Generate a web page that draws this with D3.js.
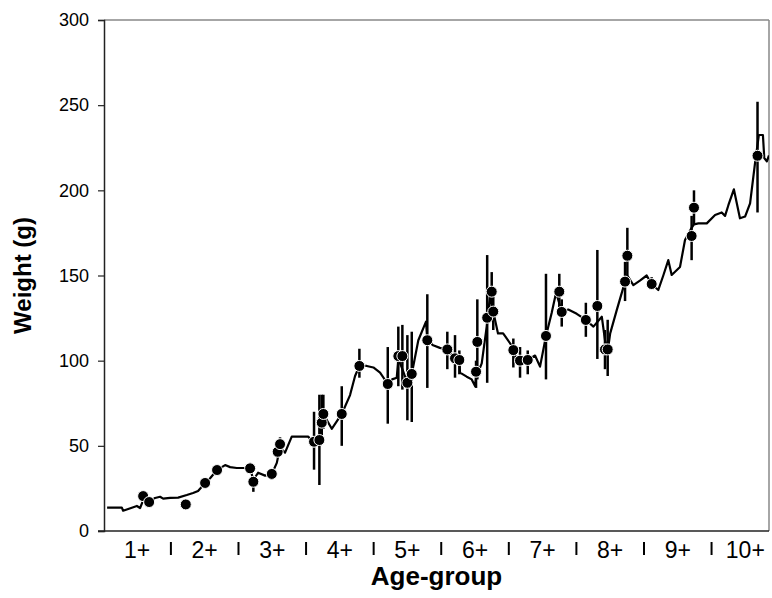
<!DOCTYPE html>
<html>
<head>
<meta charset="utf-8">
<script src="https://cdn.jsdelivr.net/npm/d3@7"></script>
<style>
  body { margin: 0; background: #fff; }
  svg { display: block; font-family: Arial, "Liberation Sans", sans-serif; }
</style>
</head>
<body>
<svg id="chart" width="772" height="598"></svg>
<script>
// age groups shown under the axis
var groups = ["1+", "2+", "3+", "4+", "5+", "6+", "7+", "8+", "9+", "10+"];
var yTicks = [0, 50, 100, 150, 200, 250, 300];

// continuous line (age in years, weight in g)
var lineAge = [0.556,0.774,0.793,0.922,0.996,1.044,1.089,1.178,1.266,1.34,1.385,1.488,1.607,1.735,1.828,1.902,
  2.006,2.08,2.183,2.302,2.376,2.475,2.568,2.672,2.72,2.79,2.894,2.993,3.067,3.115,3.189,3.288,3.456,3.53,
  3.608,3.697,3.732,3.756,3.88,4.028,4.151,4.225,4.289,4.398,4.496,4.595,4.709,4.772,4.842,4.865,4.925,4.999,
  5.064,5.161,5.275,5.294,5.38,5.48,5.59,5.704,5.768,5.778,5.877,5.951,6.0,6.015,6.099,6.173,6.222,6.27,6.34,
  6.416,6.54,6.567,6.62,6.666,6.78,6.888,6.962,7.05,7.134,7.2,7.283,7.38,7.505,7.64,7.752,7.876,7.923,7.967,
  8.0,8.097,8.22,8.254,8.343,8.44,8.54,8.614,8.712,8.786,8.86,8.91,9.033,9.107,9.205,9.24,9.305,9.429,9.552,
  9.65,9.7,9.75,9.83,9.92,9.996,10.07,10.14,10.2,10.26,10.28,10.318,10.35];
var lineWeight = [13.7,13.7,11.9,13.7,14.7,13.5,18,17,19.4,20.1,19,19.4,19.6,21.1,22.3,23.5,
  28.2,31,35.8,38.7,37.5,37,37,36.8,30,34.2,32.5,33.5,40,49,46,55.4,55.4,55.4,
  52.4,53.4,63.6,68.7,60,68.7,79.8,91,96.9,96.9,96,93,86.3,89,90,101,95,87,
  92.2,112,122.9,112,109,107.5,106.6,101.4,100.4,93,90.6,89,85.1,90,98.4,120,138,128.8,116,
  116,109,106.2,100,98,100.4,103,96.5,114.5,128,140,128.6,130,127.5,123.9,120,125.8,112,106.6,
  116,129.7,146.4,150,144.4,147,150,145,141.5,150,159,150.3,155,170.8,178,180,180.6,180.6,185.5,
  187,185,191.4,200.6,183.6,184.6,192.4,215,232.5,232.5,219,217,220.5];

// sampled means with error bars
var pointAge = [1.089,1.178,1.72,2.006,2.183,2.672,2.72,2.993,3.08,3.115,3.618,3.697,3.732,3.756,4.028,4.289,
  4.709,4.865,4.925,4.999,5.064,5.294,5.59,5.704,5.768,6.015,6.034,6.18,6.247,6.27,6.567,6.666,6.78,7.05,
  7.247,7.283,7.64,7.81,7.923,7.963,8.22,8.254,8.614,9.205,9.24,10.18];
var pointWeight = [20.5,17,15.6,28.2,35.8,36.8,28.9,33.5,46.5,51,52.4,53.4,63.6,68.7,68.7,96.9,
  86.3,102.7,102.7,87,92.2,112,106.6,101.4,100.4,93.5,111,125.2,140.5,128.8,106.2,100,100.4,114.5,
  140.5,128.6,123.9,132.1,106.6,106.6,146.4,161.6,145,173.2,189.8,220.3];
var pointLow = [19,16,15,25,33,34,23,30,43,48,36,27,55,60,50,90,
  63,85,83,65,64,84,95,90,92,84,89,87,125,118,96,90,92,89,
  128,120,114,101,95,91,135,150,142,159,180,187];
var pointHigh = [22,18,16,31,39,40,31,36,49,55,70,80,80,80,85,107,
  108,120,121,115,117,139,117,115,106,100,136,162,152,140,113,108,106,151,
  151,136,134,165,118,124,158,178,149,185,200,252];

var svg = d3.select("#chart");
var plotLeft = 104, plotRight = 769, plotTop = 20, plotBottom = 531;

var x = d3.scaleLinear().domain([0.51, 10.35]).range([plotLeft, plotRight]);
var y = d3.scaleLinear().domain([0, 300]).range([plotBottom, plotTop]);

svg.append("clipPath").attr("id", "plotclip")
  .append("rect")
  .attr("x", plotLeft).attr("y", plotTop - 2)
  .attr("width", plotRight - plotLeft).attr("height", plotBottom - plotTop + 2);

// frame: grey top & right, dark left & bottom
svg.append("line").attr("x1", plotLeft).attr("x2", plotRight).attr("y1", plotTop).attr("y2", plotTop)
  .attr("stroke", "#888").attr("stroke-width", 1.5);
svg.append("line").attr("x1", plotRight).attr("x2", plotRight).attr("y1", plotTop).attr("y2", plotBottom)
  .attr("stroke", "#888").attr("stroke-width", 1.5);

var yAxis = d3.axisLeft(y).tickValues(yTicks).tickSize(6).tickPadding(9);
var gy = svg.append("g")
  .attr("transform", "translate(" + plotLeft + ",0)")
  .call(yAxis);
gy.select(".domain").attr("stroke", "#222").attr("stroke-width", 1.5);
gy.selectAll(".tick line").attr("stroke", "#222").attr("stroke-width", 1.2);
gy.selectAll("text").attr("font-size", 18).attr("fill", "#000")
  .attr("font-family", "Arial, 'Liberation Sans', sans-serif");

svg.append("line").attr("x1", plotLeft - 6).attr("x2", plotRight).attr("y1", plotBottom).attr("y2", plotBottom)
  .attr("stroke", "#222").attr("stroke-width", 1.5);

// group labels and separators
svg.selectAll(".grp").data(groups).enter().append("text")
  .attr("class", "grp")
  .attr("x", function(d, i) { return x(i + 1); })
  .attr("y", 558)
  .attr("text-anchor", "middle")
  .attr("font-size", 23)
  .text(function(d) { return d; });

svg.selectAll(".sep").data(groups.slice(1)).enter().append("line")
  .attr("class", "sep")
  .attr("x1", function(d, i) { return x(i + 1.5); })
  .attr("x2", function(d, i) { return x(i + 1.5); })
  .attr("y1", 542).attr("y2", 555)
  .attr("stroke", "#000").attr("stroke-width", 2);

// titles
svg.append("text")
  .attr("x", (plotLeft + plotRight) / 2).attr("y", 585)
  .attr("text-anchor", "middle")
  .attr("font-size", 26).attr("font-weight", "bold")
  .text("Age-group");

svg.append("text")
  .attr("transform", "translate(31," + ((plotTop + plotBottom) / 2) + ") rotate(-90)")
  .attr("text-anchor", "middle")
  .attr("font-size", 24).attr("font-weight", "bold")
  .text("Weight (g)");

var plot = svg.append("g").attr("clip-path", "url(#plotclip)");

var lineData = lineAge.map(function(a, i) { return {age: a, w: lineWeight[i]}; });
var line = d3.line()
  .x(function(d) { return x(d.age); })
  .y(function(d) { return y(d.w); });

plot.append("path")
  .datum(lineData)
  .attr("d", line)
  .attr("fill", "none")
  .attr("stroke", "#000")
  .attr("stroke-width", 2.2)
  .attr("stroke-linejoin", "round");

var points = pointAge.map(function(a, i) {
  return {age: a, w: pointWeight[i], lo: pointLow[i], hi: pointHigh[i]};
});

plot.selectAll(".err").data(points).enter().append("line")
  .attr("class", "err")
  .attr("x1", function(d) { return x(d.age); })
  .attr("x2", function(d) { return x(d.age); })
  .attr("y1", function(d) { return y(d.lo); })
  .attr("y2", function(d) { return y(d.hi); })
  .attr("stroke", "#000")
  .attr("stroke-width", 2.5);

plot.selectAll(".pt").data(points).enter().append("circle")
  .attr("class", "pt")
  .attr("cx", function(d) { return x(d.age); })
  .attr("cy", function(d) { return y(d.w); })
  .attr("r", 5.5)
  .attr("fill", "#000")
  .attr("stroke", "#fff")
  .attr("stroke-width", 1);
</script>
</body>
</html>
